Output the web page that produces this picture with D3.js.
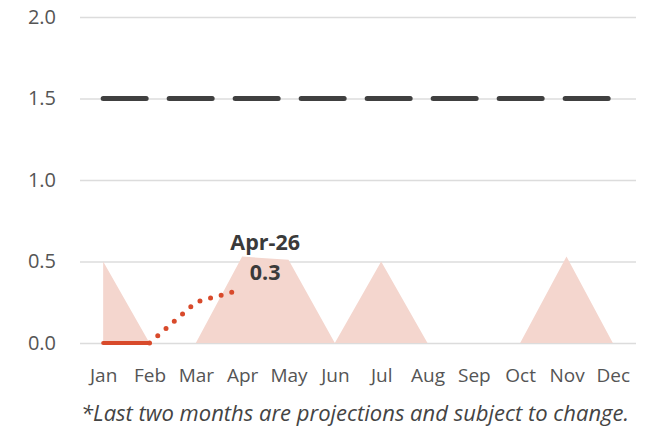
<!DOCTYPE html>
<html>
<head>
<meta charset="utf-8">
<script src="https://cdn.jsdelivr.net/npm/d3@7"></script>
<style>
  body { margin: 0; background: #fff; }
  svg text { font-family: "Open Sans", Lato, sans-serif; }
</style>
</head>
<body>
<div id="chart"></div>
<script>
// data
var months = ['Jan', 'Feb', 'Mar', 'Apr', 'May', 'Jun', 'Jul', 'Aug', 'Sep', 'Oct', 'Nov', 'Dec']
var areaValues = [0.5, 0, 0, 0.53, 0.51, 0, 0.5, 0, 0, 0, 0.53, 0]
var targetValue = 1.5
var actualMonths = ['Jan', 'Feb']
var actualValues = [0, 0]
var projMonths = ['Feb', 'Mar', 'Apr']
var projValues = [0, 0.25, 0.33]
var yTicks = [0, 0.5, 1, 1.5, 2]
var labelMonth = 'Apr'
var labelTitle = 'Apr-26'
var labelValue = '0.3'
var footnote = '*Last two months are projections and subject to change.'

var margin = { top: 17, left: 80, right: 20, bottom: 83 }
var width = 656 - margin.left - margin.right
var height = 426 - margin.top - margin.bottom

var svg = d3.select('#chart')
  .append('svg')
  .attr('width', 656)
  .attr('height', 426)
  .append('g')
  .attr('transform', 'translate(' + margin.left + ',' + margin.top + ')')

var xPositionScale = d3.scalePoint()
  .domain(months)
  .range([0, width])
  .padding(0.5)

var yPositionScale = d3.scaleLinear()
  .domain([0, 2])
  .range([height, 0])

// gridlines + y labels
var yAxis = d3.axisLeft(yPositionScale)
  .tickValues(yTicks)
  .tickSize(-width)
  .tickFormat(d3.format('.1f'))

var yg = svg.append('g').attr('class', 'axis y-axis').call(yAxis)
yg.select('.domain').remove()
yg.selectAll('.tick line').attr('stroke', '#dcdcdc').attr('stroke-width', 1.5)
yg.selectAll('.tick text')
  .attr('x', -24)
  .attr('font-size', 20)
  .attr('fill', '#555')

// x labels
var xAxis = d3.axisBottom(xPositionScale).tickSize(0)
var xg = svg.append('g')
  .attr('class', 'axis x-axis')
  .attr('transform', 'translate(0,' + height + ')')
  .call(xAxis)
xg.select('.domain').remove()
xg.selectAll('.tick text')
  .attr('dy', 0)
  .attr('y', 39)
  .attr('font-size', 19)
  .attr('fill', '#555')

// area
var area = d3.area()
  .x(function(d, i) { return xPositionScale(months[i]) })
  .y0(height)
  .y1(function(d) { return yPositionScale(d) })

svg.append('path')
  .datum(areaValues)
  .attr('d', area)
  .attr('fill', '#f4d6ce')

// target dashed line
svg.append('line')
  .attr('x1', xPositionScale(months[0]))
  .attr('x2', xPositionScale(months[months.length - 1]))
  .attr('y1', yPositionScale(targetValue))
  .attr('y2', yPositionScale(targetValue))
  .attr('stroke', '#404040')
  .attr('stroke-width', 5)
  .attr('stroke-linecap', 'round')
  .attr('stroke-dasharray', '43,23')

// actual line
var line = d3.line()
  .x(function(d) { return xPositionScale(d[0]) })
  .y(function(d) { return yPositionScale(d[1]) })

svg.append('path')
  .datum(d3.zip(actualMonths, actualValues))
  .attr('d', line)
  .attr('fill', 'none')
  .attr('stroke', '#d84a2b')
  .attr('stroke-width', 4)
  .attr('stroke-linecap', 'round')

// projection dotted line
svg.append('path')
  .datum(d3.zip(projMonths, projValues))
  .attr('d', line)
  .attr('fill', 'none')
  .attr('stroke', '#d84a2b')
  .attr('stroke-width', 5)
  .attr('stroke-linecap', 'round')
  .attr('stroke-dasharray', '0,11')

// label
var lx = xPositionScale(labelMonth) + 23
svg.append('text')
  .text(labelTitle)
  .attr('x', lx)
  .attr('y', yPositionScale(0.5) - 11.5)
  .attr('text-anchor', 'middle')
  .attr('font-size', 21.5)
  .attr('font-weight', 'bold')
  .attr('fill', '#3a3a3a')

svg.append('text')
  .text(labelValue)
  .attr('x', lx)
  .attr('y', yPositionScale(0.5) + 18.5)
  .attr('text-anchor', 'middle')
  .attr('font-size', 21.5)
  .attr('font-weight', 'bold')
  .attr('fill', '#3a3a3a')

// footnote
svg.append('text')
  .text(footnote)
  .attr('x', width / 2 - 3)
  .attr('y', height + 78)
  .attr('text-anchor', 'middle')
  .attr('font-size', 22)
  .attr('font-style', 'italic')
  .attr('fill', '#444')
</script>
</body>
</html>
